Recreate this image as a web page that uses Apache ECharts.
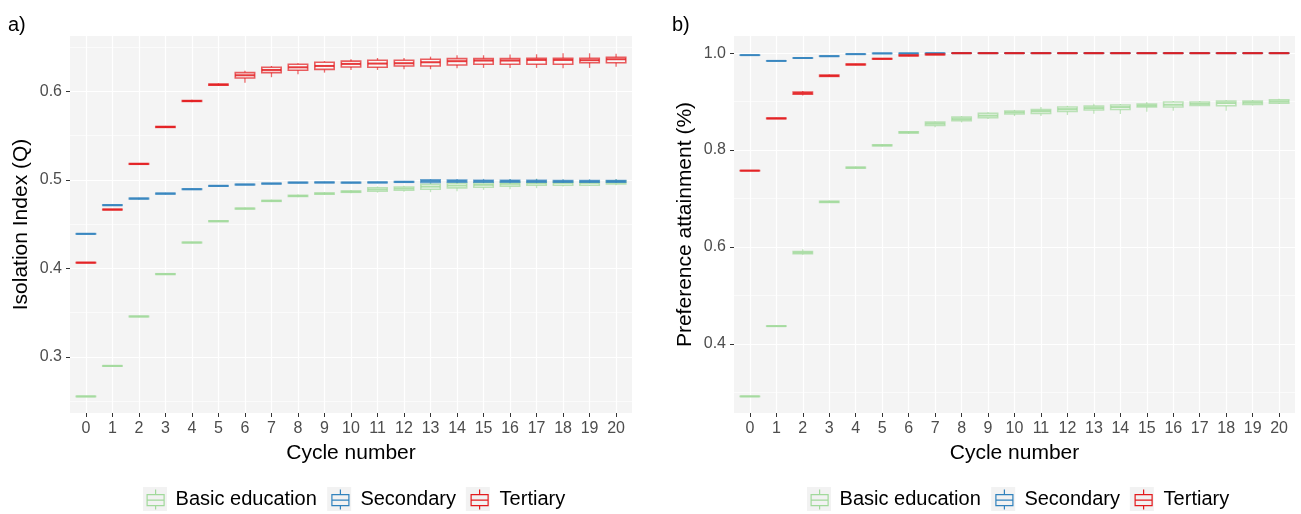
<!DOCTYPE html>
<html>
<head>
<meta charset="utf-8">
<script src="https://cdn.jsdelivr.net/npm/echarts@6/dist/echarts.min.js"></script>
<style>
html,body{margin:0;padding:0;background:#fff;}
#chart{width:1301px;height:514px;}
</style>
</head>
<body>
<div id="chart"></div>
<script>
// ---------- DATA ----------
const cycles = [0,1,2,3,4,5,6,7,8,9,10,11,12,13,14,15,16,17,18,19,20];
const groupNames = ['Basic education','Secondary','Tertiary'];
const groupColors = ['#A1D99B','#3182BD','#E31A1C'];

// Each row: [lower whisker, Q1, median, Q3, upper whisker] for one cycle
// Panel a) Isolation Index (Q)
const isoBasic = [
  [0.2550,0.2554,0.2556,0.2558,0.2562],
  [0.2893,0.2897,0.2900,0.2903,0.2907],
  [0.3450,0.3455,0.3458,0.3461,0.3466],
  [0.3926,0.3932,0.3936,0.3940,0.3946],
  [0.4283,0.4289,0.4292,0.4295,0.4301],
  [0.4523,0.4529,0.4533,0.4537,0.4543],
  [0.4664,0.4671,0.4675,0.4679,0.4686],
  [0.4748,0.4757,0.4762,0.4767,0.4776],
  [0.4802,0.4812,0.4818,0.4824,0.4834],
  [0.4828,0.4838,0.4844,0.4850,0.4860],
  [0.4848,0.4859,0.4866,0.4873,0.4884],
  [0.4855,0.4870,0.4890,0.4910,0.4925],
  [0.4865,0.4882,0.4901,0.4918,0.4932],
  [0.4860,0.4894,0.4923,0.4950,0.4969],
  [0.4872,0.4909,0.4935,0.4961,0.4980],
  [0.4886,0.4916,0.4943,0.4965,0.4991],
  [0.4894,0.4928,0.4954,0.4976,0.5010],
  [0.4905,0.4939,0.4961,0.4980,0.5014],
  [0.4924,0.4939,0.4965,0.4980,0.4999],
  [0.4931,0.4939,0.4965,0.4980,0.4999],
  [0.4939,0.4954,0.4973,0.4988,0.5010]
];
const isoSecondary = [
  [0.4386,0.4388,0.4390,0.4392,0.4394],
  [0.4708,0.4711,0.4714,0.4717,0.4720],
  [0.4778,0.4784,0.4788,0.4792,0.4798],
  [0.4834,0.4840,0.4844,0.4848,0.4854],
  [0.4886,0.4891,0.4894,0.4897,0.4902],
  [0.4924,0.4928,0.4931,0.4934,0.4938],
  [0.4940,0.4943,0.4946,0.4949,0.4952],
  [0.4950,0.4954,0.4957,0.4960,0.4964],
  [0.4960,0.4965,0.4968,0.4971,0.4976],
  [0.4962,0.4967,0.4970,0.4973,0.4978],
  [0.4960,0.4965,0.4968,0.4971,0.4976],
  [0.4962,0.4967,0.4970,0.4973,0.4978],
  [0.4966,0.4972,0.4976,0.4980,0.4986],
  [0.4960,0.4970,0.4985,0.4999,0.5008],
  [0.4962,0.4972,0.4984,0.4996,0.5010],
  [0.4962,0.4972,0.4984,0.4995,0.5010],
  [0.4962,0.4973,0.4984,0.4995,0.5008],
  [0.4962,0.4972,0.4982,0.4993,0.5008],
  [0.4963,0.4972,0.4981,0.4992,0.5006],
  [0.4963,0.4972,0.4981,0.4992,0.5005],
  [0.4964,0.4973,0.4982,0.4992,0.5005]
];
const isoTertiary = [
  [0.4061,0.4063,0.4065,0.4067,0.4069],
  [0.4658,0.4661,0.4664,0.4667,0.4670],
  [0.5170,0.5175,0.5179,0.5183,0.5188],
  [0.5584,0.5591,0.5596,0.5601,0.5608],
  [0.5876,0.5884,0.5889,0.5894,0.5902],
  [0.6058,0.6067,0.6073,0.6079,0.6088],
  [0.6096,0.6149,0.6179,0.6209,0.6231],
  [0.6157,0.6209,0.6239,0.6269,0.6284],
  [0.6190,0.6236,0.6269,0.6303,0.6315],
  [0.6209,0.6245,0.6284,0.6326,0.6338],
  [0.6239,0.6273,0.6307,0.6338,0.6360],
  [0.6239,0.6269,0.6311,0.6349,0.6374],
  [0.6247,0.6284,0.6315,0.6349,0.6374],
  [0.6247,0.6284,0.6326,0.6360,0.6389],
  [0.6258,0.6295,0.6338,0.6367,0.6405],
  [0.6262,0.6303,0.6345,0.6367,0.6405],
  [0.6262,0.6303,0.6345,0.6367,0.6412],
  [0.6262,0.6303,0.6352,0.6371,0.6416],
  [0.6258,0.6303,0.6352,0.6371,0.6427],
  [0.6262,0.6321,0.6349,0.6371,0.6427],
  [0.6276,0.6321,0.6360,0.6382,0.6423]
];

// Panel b) Preference attainment (%)
const prefBasic = [
  [0.2910,0.2912,0.2914,0.2916,0.2918],
  [0.4358,0.4362,0.4365,0.4368,0.4372],
  [0.5840,0.5860,0.5883,0.5905,0.5950],
  [0.6905,0.6918,0.6930,0.6942,0.6960],
  [0.7615,0.7627,0.7636,0.7645,0.7660],
  [0.8075,0.8088,0.8097,0.8106,0.8120],
  [0.8335,0.8352,0.8364,0.8376,0.8390],
  [0.8470,0.8505,0.8543,0.8575,0.8590],
  [0.8570,0.8605,0.8639,0.8680,0.8700],
  [0.8640,0.8667,0.8708,0.8756,0.8780],
  [0.8700,0.8745,0.8777,0.8805,0.8830],
  [0.8701,0.8756,0.8804,0.8838,0.8887],
  [0.8722,0.8797,0.8845,0.8887,0.8914],
  [0.8749,0.8825,0.8866,0.8907,0.8955],
  [0.8742,0.8838,0.8887,0.8928,0.8948],
  [0.8790,0.8887,0.8914,0.8948,0.8990],
  [0.8811,0.8887,0.8935,0.8990,0.9010],
  [0.8907,0.8921,0.8955,0.8990,0.9010],
  [0.8811,0.8914,0.8969,0.9010,0.9031],
  [0.8921,0.8941,0.8976,0.9010,0.9031],
  [0.8948,0.8969,0.9004,0.9038,0.9058]
];
const prefSecondary = [
  [0.9955,0.9957,0.9959,0.9961,0.9963],
  [0.9835,0.9838,0.9840,0.9842,0.9845],
  [0.9894,0.9897,0.9900,0.9903,0.9906],
  [0.9930,0.9934,0.9938,0.9942,0.9946],
  [0.9974,0.9977,0.9980,0.9983,0.9986],
  [0.9990,0.9993,0.9995,0.9997,0.9999],
  [0.9985,0.9990,0.9994,0.9998,1.0000],
  [0.9993,0.9996,0.9998,0.9999,1.0000],
  [0.9998,0.9999,1.0000,1.0000,1.0000],
  [0.9998,0.9999,1.0000,1.0000,1.0000],
  [0.9998,0.9999,1.0000,1.0000,1.0000],
  [0.9998,0.9999,1.0000,1.0000,1.0000],
  [0.9998,0.9999,1.0000,1.0000,1.0000],
  [0.9998,0.9999,1.0000,1.0000,1.0000],
  [0.9998,0.9999,1.0000,1.0000,1.0000],
  [0.9998,0.9999,1.0000,1.0000,1.0000],
  [0.9998,0.9999,1.0000,1.0000,1.0000],
  [0.9998,0.9999,1.0000,1.0000,1.0000],
  [0.9998,0.9999,1.0000,1.0000,1.0000],
  [0.9998,0.9999,1.0000,1.0000,1.0000],
  [0.9998,0.9999,1.0000,1.0000,1.0000]
];
const prefTertiary = [
  [0.7570,0.7572,0.7574,0.7576,0.7578],
  [0.8640,0.8647,0.8653,0.8659,0.8666],
  [0.9125,0.9150,0.9172,0.9195,0.9220],
  [0.9505,0.9520,0.9533,0.9546,0.9560],
  [0.9750,0.9758,0.9766,0.9774,0.9782],
  [0.9872,0.9878,0.9883,0.9888,0.9893],
  [0.9935,0.9945,0.9952,0.9960,0.9968],
  [0.9962,0.9967,0.9973,0.9979,0.9985],
  [0.9996,0.9998,0.9999,1.0000,1.0000],
  [0.9996,0.9998,0.9999,1.0000,1.0000],
  [0.9996,0.9998,0.9999,1.0000,1.0000],
  [0.9996,0.9998,0.9999,1.0000,1.0000],
  [0.9996,0.9998,0.9999,1.0000,1.0000],
  [0.9996,0.9998,0.9999,1.0000,1.0000],
  [0.9996,0.9998,0.9999,1.0000,1.0000],
  [0.9996,0.9998,0.9999,1.0000,1.0000],
  [0.9996,0.9998,0.9999,1.0000,1.0000],
  [0.9996,0.9998,0.9999,1.0000,1.0000],
  [0.9996,0.9998,0.9999,1.0000,1.0000],
  [0.9996,0.9998,0.9999,1.0000,1.0000],
  [0.9996,0.9998,0.9999,1.0000,1.0000]
];

// Tick labels / grid breaks
const isoMajorTicks = [0.3,0.4,0.5,0.6];
const isoMinorTicks = [0.25,0.35,0.45,0.55,0.65];
const prefMajorTicks = [0.4,0.6,0.8,1.0];
const prefMinorTicks = [0.3,0.5,0.7,0.9];

// ---------- CHART ----------
const FONT = '"Liberation Sans", Arial, sans-serif';
const PANEL_BG = '#F4F4F4';

function makeRender(color) {
  return function (params, api) {
    const x = api.value(0);
    const pLo = api.coord([x, api.value(1)]);
    const pQ1 = api.coord([x, api.value(2)]);
    const pMed = api.coord([x, api.value(3)]);
    const pQ3 = api.coord([x, api.value(4)]);
    const pHi = api.coord([x, api.value(5)]);
    const w = api.size([1, 0])[0] * 0.73;
    const cx = pMed[0];
    const whisk = { stroke: color, lineWidth: 1.3, opacity: 0.65 };
    return {
      type: 'group',
      children: [
        { type: 'line', shape: { x1: cx, y1: pHi[1], x2: cx, y2: pQ3[1] }, style: whisk },
        { type: 'line', shape: { x1: cx, y1: pQ1[1], x2: cx, y2: pLo[1] }, style: whisk },
        { type: 'rect', shape: { x: cx - w / 2, y: pQ3[1], width: w, height: pQ1[1] - pQ3[1] },
          style: { fill: 'rgba(255,255,255,0.55)', stroke: color, lineWidth: 1.6, opacity: 0.7 } },
        { type: 'line', shape: { x1: cx - w / 2, y1: pMed[1], x2: cx + w / 2, y2: pMed[1] },
          style: { stroke: color, lineWidth: 2, opacity: 0.85 } }
      ]
    };
  };
}

function boxSeries(name, stats, color, panel) {
  return {
    name: name,
    type: 'custom',
    xAxisIndex: panel,
    yAxisIndex: panel * 2,
    data: stats.map((s, i) => [cycles[i]].concat(s)),
    encode: { x: 0, y: [1, 2, 3, 4, 5] },
    renderItem: makeRender(color),
    itemStyle: { color: color },
    z: 3,
    silent: true
  };
}

function xAxisFor(panel) {
  return {
    gridIndex: panel, type: 'value', min: -0.6, max: 20.6, position: 'bottom',
    axisLine: { show: false, onZero: false },
    axisTick: { show: true, customValues: cycles, length: 4, lineStyle: { color: '#333333', width: 1 } },
    axisLabel: { customValues: cycles, interval: 0, margin: 8, fontSize: 16, color: '#4D4D4D', fontFamily: FONT,
                 formatter: v => String(Math.round(v)) },
    splitLine: { show: true, lineStyle: { color: '#FFFFFF', width: 1.2 } },
    name: 'Cycle number', nameLocation: 'middle', nameGap: 30,
    nameTextStyle: { fontSize: 21, color: '#000000', fontFamily: FONT }
  };
}

function yMajor(panel, min, max, ticks, title) {
  return {
    gridIndex: panel, type: 'value', min: min, max: max, position: 'left',
    axisLine: { show: false, onZero: false },
    axisTick: { show: true, customValues: ticks, length: 4, lineStyle: { color: '#333333', width: 1 } },
    axisLabel: { customValues: ticks, margin: 8, fontSize: 16, color: '#4D4D4D', fontFamily: FONT,
                 formatter: v => v.toFixed(1) },
    splitLine: { show: true, lineStyle: { color: '#FFFFFF', width: 1.2 } },
    name: title, nameLocation: 'middle', nameRotate: 90, nameGap: 38,
    nameTextStyle: { fontSize: 21, color: '#000000', fontFamily: FONT }
  };
}

function yMinor(panel, min, max, ticks) {
  return {
    gridIndex: panel, type: 'value', min: min, max: max, position: 'left',
    axisLine: { show: false, onZero: false },
    axisTick: { show: false, customValues: ticks },
    axisLabel: { show: false, customValues: ticks },
    splitLine: { show: true, lineStyle: { color: '#FFFFFF', width: 0.6 } }
  };
}

// boxplot key glyph (whiskers, box, median), padded to a 27x24 cell via bare moveTo points
const glyph = 'path://M0,0 M27,24 M12,2 V7 M12,18 V22 M3.5,7 H20.5 V18 H3.5 Z M3.5,12.5 H20.5';

function legendFor(left) {
  return {
    left: left, top: 487, orient: 'horizontal', padding: 0,
    itemWidth: 27, itemHeight: 24, itemGap: 11,
    selectedMode: false,
    textStyle: { fontSize: 20, color: '#000000', fontFamily: FONT, padding: [2, 0, 0, 0] },
    data: groupNames.map((n, i) => ({
      name: n, icon: glyph,
      itemStyle: { color: 'rgba(0,0,0,0)', borderColor: groupColors[i], borderWidth: 1.2 }
    }))
  };
}

const series = [];
[[isoBasic, isoSecondary, isoTertiary], [prefBasic, prefSecondary, prefTertiary]].forEach((sets, panel) => {
  sets.forEach((stats, g) => series.push(boxSeries(groupNames[g], stats, groupColors[g], panel)));
});

// grey key backgrounds behind the legend glyphs
const keyBoxes = [143, 327.2, 465.8, 807, 991.2, 1129.8].map(x => ({
  type: 'rect', left: x, top: 487, shape: { width: 24, height: 24 }, style: { fill: '#F2F2F2' }, z: 0
}));

const chart = echarts.init(document.getElementById('chart'), null, { renderer: 'canvas' });
chart.setOption({
  backgroundColor: '#FFFFFF',
  animation: false,
  title: [
    { text: 'a)', left: 8, top: 15, padding: 0, textStyle: { fontSize: 20, fontWeight: 'normal', color: '#000', fontFamily: FONT } },
    { text: 'b)', left: 672, top: 15, padding: 0, textStyle: { fontSize: 20, fontWeight: 'normal', color: '#000', fontFamily: FONT } }
  ],
  grid: [
    { left: 70, top: 36, width: 562, height: 377, show: true, backgroundColor: PANEL_BG, borderWidth: 0, containLabel: false },
    { left: 734, top: 36, width: 561, height: 377, show: true, backgroundColor: PANEL_BG, borderWidth: 0, containLabel: false }
  ],
  xAxis: [xAxisFor(0), xAxisFor(1)],
  yAxis: [
    yMajor(0, 0.2369, 0.6622, isoMajorTicks, 'Isolation Index (Q)'),
    yMinor(0, 0.2369, 0.6622, isoMinorTicks),
    yMajor(1, 0.2571, 1.0354, prefMajorTicks, 'Preference attainment (%)'),
    yMinor(1, 0.2571, 1.0354, prefMinorTicks)
  ],
  legend: [legendFor(143), legendFor(807)],
  graphic: keyBoxes,
  series: series
});
</script>
</body>
</html>
